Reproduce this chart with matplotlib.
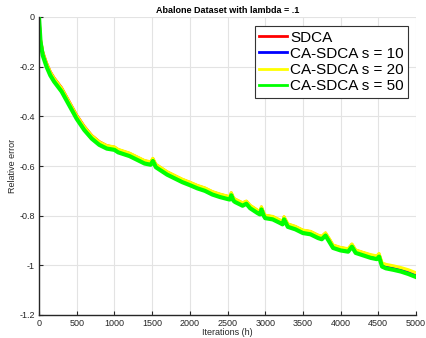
import matplotlib
matplotlib.use("Agg")
import matplotlib.pyplot as plt

plt.rcParams['font.family'] = ['Liberation Sans', 'DejaVu Sans']

iters = [0, 20, 50, 100, 150, 200, 300, 400, 500, 600, 700, 800, 900, 1000, 1050,
         1100, 1200, 1300, 1400, 1480, 1510, 1550, 1600, 1700, 1800, 1900, 2000,
         2100, 2200, 2300, 2400, 2500, 2530, 2550, 2580, 2600, 2700, 2750, 2800,
         2900, 2930, 2950, 2980, 3000, 3100, 3200, 3230, 3250, 3300, 3400, 3500,
         3600, 3700, 3750, 3800, 3850, 3900, 4000, 4100, 4150, 4200, 4300, 4400,
         4480, 4510, 4550, 4600, 4700, 4800, 4900, 5000]

sdca = [0, -0.09, -0.14, -0.185, -0.22, -0.245, -0.285, -0.34, -0.395, -0.44, -0.477,
        -0.502, -0.518, -0.524, -0.534, -0.539, -0.549, -0.564, -0.579, -0.584, -0.57,
        -0.594, -0.604, -0.624, -0.639, -0.654, -0.666, -0.679, -0.689, -0.704, -0.714,
        -0.722, -0.724, -0.708, -0.729, -0.734, -0.749, -0.742, -0.759, -0.779, -0.784,
        -0.765, -0.789, -0.799, -0.804, -0.819, -0.824, -0.805, -0.834, -0.844, -0.859,
        -0.864, -0.879, -0.884, -0.87, -0.894, -0.919, -0.929, -0.934, -0.915, -0.939,
        -0.949, -0.959, -0.964, -0.955, -0.993, -1.0, -1.006, -1.013, -1.022, -1.034]

ca_s10 = [0, -0.096, -0.15, -0.195, -0.23, -0.255, -0.295, -0.35, -0.405, -0.45, -0.485,
          -0.51, -0.525, -0.53, -0.54, -0.545, -0.555, -0.57, -0.585, -0.59, -0.575,
          -0.6, -0.61, -0.63, -0.645, -0.66, -0.672, -0.685, -0.695, -0.71, -0.72,
          -0.728, -0.73, -0.713, -0.735, -0.74, -0.755, -0.747, -0.765, -0.785, -0.79,
          -0.77, -0.795, -0.805, -0.81, -0.825, -0.83, -0.81, -0.84, -0.85, -0.865,
          -0.87, -0.885, -0.89, -0.875, -0.9, -0.925, -0.935, -0.94, -0.92, -0.945,
          -0.955, -0.965, -0.97, -0.96, -1.0, -1.007, -1.013, -1.02, -1.03, -1.042]

ca_s20 = [0, -0.092, -0.143, -0.187, -0.222, -0.247, -0.287, -0.342, -0.397, -0.442, -0.478,
          -0.503, -0.518, -0.523, -0.533, -0.538, -0.548, -0.563, -0.578, -0.583, -0.569,
          -0.593, -0.603, -0.623, -0.638, -0.653, -0.665, -0.678, -0.688, -0.703, -0.713,
          -0.721, -0.723, -0.707, -0.728, -0.733, -0.748, -0.741, -0.758, -0.778, -0.783,
          -0.764, -0.788, -0.798, -0.803, -0.818, -0.823, -0.804, -0.833, -0.843, -0.858,
          -0.863, -0.878, -0.883, -0.869, -0.893, -0.918, -0.928, -0.933, -0.914, -0.938,
          -0.948, -0.957, -0.962, -0.952, -0.99, -0.996, -1.002, -1.009, -1.018, -1.03]

ca_s50 = [0, -0.10, -0.155, -0.20, -0.235, -0.26, -0.30, -0.355, -0.41, -0.455, -0.49,
          -0.515, -0.53, -0.535, -0.545, -0.55, -0.56, -0.575, -0.59, -0.595, -0.58,
          -0.605, -0.615, -0.635, -0.65, -0.665, -0.677, -0.69, -0.70, -0.715, -0.725,
          -0.733, -0.735, -0.718, -0.74, -0.745, -0.76, -0.752, -0.77, -0.79, -0.795,
          -0.775, -0.80, -0.81, -0.815, -0.83, -0.835, -0.815, -0.845, -0.855, -0.87,
          -0.875, -0.89, -0.895, -0.88, -0.905, -0.93, -0.94, -0.945, -0.925, -0.95,
          -0.96, -0.97, -0.975, -0.965, -1.005, -1.012, -1.018, -1.025, -1.035, -1.047]

labels = ['SDCA', 'CA-SDCA s = 10', 'CA-SDCA s = 20', 'CA-SDCA s = 50']
colors = ['#ff0000', '#0000ff', '#ffff00', '#00ff00']
widths = [2.0, 2.0, 2.2, 3.0]
series = [sdca, ca_s10, ca_s20, ca_s50]

fig = plt.figure(figsize=(4.26, 3.38), dpi=100)
ax = fig.add_axes([39/426, 23/338, 377/426, 298/338])

for ys, c, w, lab in zip(series, colors, widths, labels):
    ax.plot(iters, ys, color=c, lw=w, label=lab)

ax.set_xlim(0, 5000)
ax.set_ylim(-1.2, 0)
ax.set_xticks(range(0, 5001, 500))
ax.set_yticks([-1.2, -1, -0.8, -0.6, -0.4, -0.2, 0])
ax.set_yticklabels(['-1.2', '-1', '-0.8', '-0.6', '-0.4', '-0.2', '0'])
ax.grid(True, color='#e3e3e3', lw=0.8)
ax.set_axisbelow(True)
for s in ['top', 'right']:
    ax.spines[s].set_visible(False)
for s in ['left', 'bottom']:
    ax.spines[s].set_color('#262626')
    ax.spines[s].set_linewidth(1.0)
ax.tick_params(direction='in', length=3, labelsize=6.5, colors='#262626', pad=3)

ax.set_title('Abalone Dataset with lambda = .1', fontsize=6.5, fontweight='bold', pad=3)
ax.set_xlabel('Iterations (h)', fontsize=6.5, labelpad=0, color='#262626')
ax.set_ylabel('Relative error', fontsize=6.5, labelpad=1.5, color='#262626')

leg = ax.legend(loc='upper right', bbox_to_anchor=(0.979, 0.970), borderaxespad=0,
                fontsize=11, handlelength=1.8, handletextpad=0.2, labelspacing=0.15,
                borderpad=0.3, fancybox=False, framealpha=1, edgecolor='#333333')
leg.get_frame().set_linewidth(0.8)
for h in leg.get_lines():
    h.set_linewidth(2)

fig.savefig('out.png', dpi=100)
